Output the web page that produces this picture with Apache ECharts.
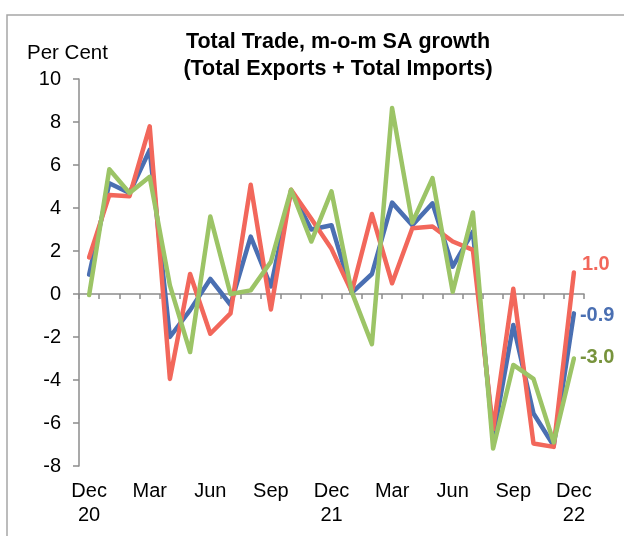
<!DOCTYPE html>
<html>
<head>
<meta charset="utf-8">
<script src="https://cdn.jsdelivr.net/npm/echarts@6/dist/echarts.min.js"></script>
<style>
html,body{margin:0;padding:0;background:#fff;}
#chart{width:624px;height:536px;}
</style>
</head>
<body>
<div id="chart"></div>
<script>
var months = ["Dec 20","Jan 21","Feb 21","Mar 21","Apr 21","May 21","Jun 21","Jul 21","Aug 21","Sep 21","Oct 21","Nov 21","Dec 21",
              "Jan 22","Feb 22","Mar 22","Apr 22","May 22","Jun 22","Jul 22","Aug 22","Sep 22","Oct 22","Nov 22","Dec 22"];
var totalTrade = [0.9, 5.15, 4.7, 6.7, -2.0, -0.75, 0.7, -0.5, 2.67, 0.35, 4.8, 3.0, 3.2,
                  0.05, 0.93, 4.25, 3.2, 4.22, 1.27, 2.9, -6.7, -1.44, -5.56, -7.06, -0.9];
var totalImports = [1.7, 4.6, 4.55, 7.8, -3.95, 0.93, -1.85, -0.9, 5.08, -0.72, 4.85, 3.5, 2.1,
                    0.1, 3.72, 0.5, 3.06, 3.14, 2.44, 2.05, -6.3, 0.24, -6.95, -7.11, 1.0];
var totalExports = [-0.05, 5.8, 4.7, 5.45, 0.4, -2.7, 3.6, 0.0, 0.17, 1.5, 4.85, 2.44, 4.77,
                    0.1, -2.33, 8.65, 3.32, 5.39, 0.1, 3.79, -7.19, -3.3, -3.95, -6.9, -3.0];
var yTicks = {min: -8, max: 10, interval: 2};

var FONT = "'Liberation Sans', Arial, sans-serif";
var BLUE = "#4A6FB2", RED = "#F2675B", GREEN = "#9CC466";

var chart = echarts.init(document.getElementById('chart'), null, {renderer: 'canvas'});

function mk(name, data, color, labelColor, offset) {
  return {
    name: name, type: 'line', data: data, xAxisIndex: 0, yAxisIndex: 0,
    symbol: 'none', smooth: false,
    lineStyle: {color: color, width: 4.5, join: 'round', cap: 'round'},
    itemStyle: {color: color},
    endLabel: {
      show: true, color: labelColor, fontFamily: FONT, fontWeight: 'bold', fontSize: 20,
      distance: 6, offset: offset,
      formatter: function (p) { return p.value.toFixed(1); }
    },
    animation: false, silent: true
  };
}

chart.setOption({
  animation: false,
  backgroundColor: '#fff',
  title: {
    text: 'Total Trade, m-o-m SA growth\n(Total Exports + Total Imports)',
    left: 333, textAlign: 'center', top: 23,
    textStyle: {fontFamily: FONT, fontWeight: 'bold', fontSize: 21.5, lineHeight: 27.5, color: '#000'}
  },
  graphic: [
    {type: 'rect', shape: {x: 7, y: 15, width: 700, height: 600},
     style: {fill: 'none', stroke: '#a6a6a6', lineWidth: 1.5}, silent: true, z: -1},
    {type: 'text', left: 27, top: 43,
     style: {text: 'Per Cent', font: "20.5px 'Liberation Sans', Arial, sans-serif", fill: '#000'}}
  ],
  grid: {left: 79, right: 40, top: 79, bottom: 70, containLabel: false},
  xAxis: [
    {
      type: 'category', data: months, boundaryGap: true,
      axisLine: {onZero: true, lineStyle: {color: '#8c8c8c', width: 1.5}},
      axisTick: {show: true, interval: 0, length: 5, lineStyle: {color: '#8c8c8c', width: 1.5}},
      axisLabel: {show: false}, splitLine: {show: false}
    },
    {
      type: 'category', data: months, boundaryGap: true, position: 'bottom',
      axisLine: {show: false, onZero: false}, axisTick: {show: false},
      axisLabel: {
        show: true, interval: 0, margin: 13, fontFamily: FONT, fontSize: 20, lineHeight: 24, color: '#000',
        formatter: function (v, i) {
          if (i % 3 !== 0) return '';
          var parts = v.split(' ');
          return parts[0] === 'Dec' ? 'Dec\n' + parts[1] : parts[0];
        }
      },
      splitLine: {show: false}
    }
  ],
  yAxis: {
    type: 'value', min: yTicks.min, max: yTicks.max, interval: yTicks.interval,
    axisLine: {show: true, lineStyle: {color: '#8c8c8c', width: 1.5}},
    axisTick: {show: true, length: 6, lineStyle: {color: '#8c8c8c', width: 1.5}},
    axisLabel: {margin: 18, fontFamily: FONT, fontSize: 20, color: '#000'},
    splitLine: {show: false}
  },
  series: [
    mk('Total Trade', totalTrade, BLUE, BLUE, [0, 2]),
    mk('Total Imports', totalImports, RED, RED, [2, -8]),
    mk('Total Exports', totalExports, GREEN, '#77933C', [0, -1])
  ]
});
</script>
</body>
</html>
